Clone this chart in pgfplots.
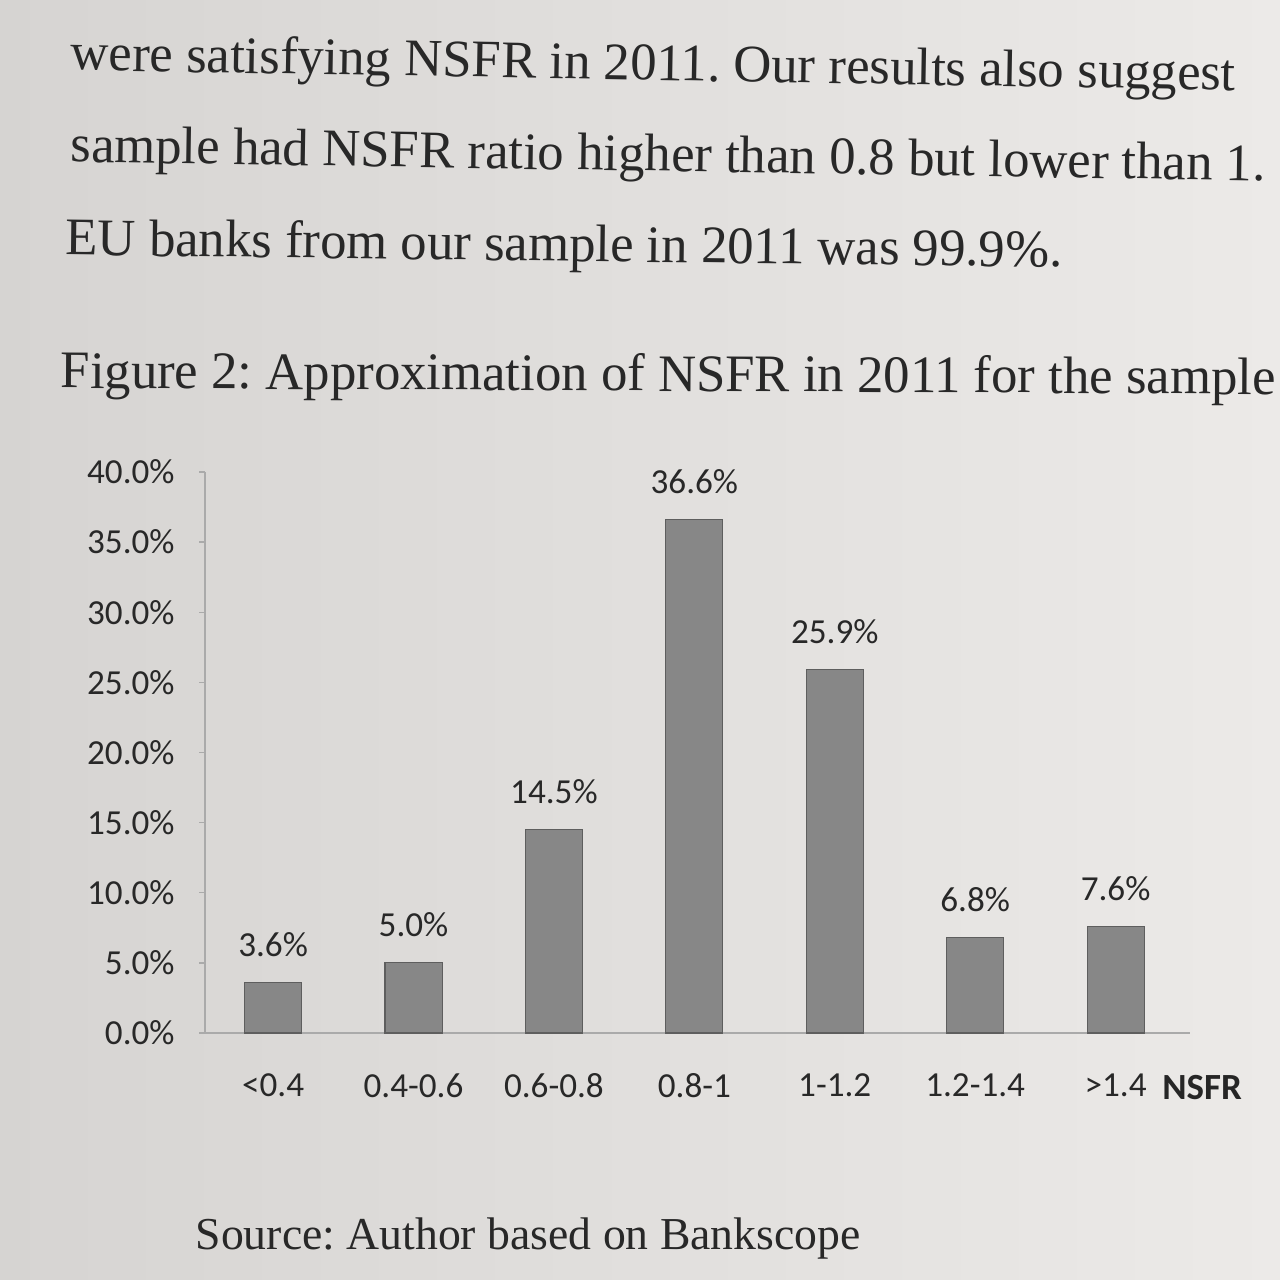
\documentclass[border=0pt]{standalone}
\usepackage{pgfplots}
\pgfplotsset{compat=1.18}
\usepackage{fontspec}
\setmainfont{Liberation Serif}
\newfontfamily\calfont{Carlito}
\definecolor{paperL}{RGB}{214,212,210}
\definecolor{paperR}{RGB}{236,234,232}
\definecolor{ink}{RGB}{40,40,40}
\definecolor{barfill}{RGB}{135,135,135}
\definecolor{axisgray}{RGB}{170,170,170}
\begin{document}
\frenchspacing
\begin{tikzpicture}[x=1cm,y=1cm]
\shade[left color=paperL, right color=paperR] (0,0) rectangle (12.8,12.8);
\clip (0,0) rectangle (12.8,12.8);
% body text
\begin{scope}[every node/.style={anchor=base west, inner sep=0pt, text=ink, font=\fontsize{15}{17}\selectfont}]
\node[rotate=-1.0] at (0.70,12.8-0.70) {were satisfying NSFR in 2011. Our results also suggest};
\node[rotate=-0.9] at (0.70,12.8-1.62) {sample had NSFR ratio higher than 0.8 but lower than 1.};
\node[rotate=-0.7] at (0.65,12.8-2.55) {EU banks from our sample in 2011 was 99.9\%.};
\node[rotate=-0.3] at (0.60,12.8-3.88) {Figure 2: Approximation of NSFR in 2011 for the sample};
\node[font=\fontsize{13}{15}\selectfont] at (1.95,12.8-12.50) {Source: Author based on Bankscope};
\end{scope}
\begin{axis}[
  at={(2.05cm,2.47cm)}, anchor=south west,
  scale only axis, width=9.85cm, height=5.61cm,
  xmin=-0.485, xmax=6.53, ymin=0, ymax=40,
  axis x line*=bottom, axis y line*=left,
  axis line style={draw=axisgray, line width=0.4pt},
  ybar, bar width=0.57cm,
  ytick={0,5,...,40},
  yticklabel={\pgfmathprintnumber[fixed,fixed zerofill,precision=1]{\tick}\%},
  /pgf/number format/assume math mode=true,
  ticklabel style={font=\calfont\fontsize{10}{12}\selectfont, text=ink},
  yticklabel style={xshift=-0.12cm},
  tick align=outside, major tick length=0.06cm,
  tick style={draw=axisgray, line width=0.4pt},
  xtick={0,...,6},
  xticklabels={{<0.4},{0.4-0.6},{0.6-0.8},{0.8-1},{1-1.2},{1.2-1.4},{>1.4}},
  xticklabel style={yshift=-0.22cm},
  x tick style={draw=none},
  extra x ticks={0.5,1.5,2.5,3.5,4.5,5.5,6.5},
  extra x tick labels={},
  extra x tick style={tick style={draw=axisgray, line width=0.4pt}, major tick length=0.1cm},
  nodes near coords={\pgfmathprintnumber[fixed,fixed zerofill,precision=1]{\pgfplotspointmeta}\%},
  every node near coord/.append style={font=\calfont\fontsize{10}{12}\selectfont, text=ink, anchor=center, yshift=0.38cm},
  clip=false,
]
\addplot[fill=barfill, draw=barfill!70!black, line width=0.3pt] coordinates {
(0,3.6) (1,5.0) (2,14.5) (3,36.6) (4,25.9) (5,6.8) (6,7.6)};
\end{axis}
\node[font=\calfont\bfseries\fontsize{10.5}{12}\selectfont, text=black!85, anchor=center] at (12.02,12.8-10.88) {NSFR};
\end{tikzpicture}
\end{document}
